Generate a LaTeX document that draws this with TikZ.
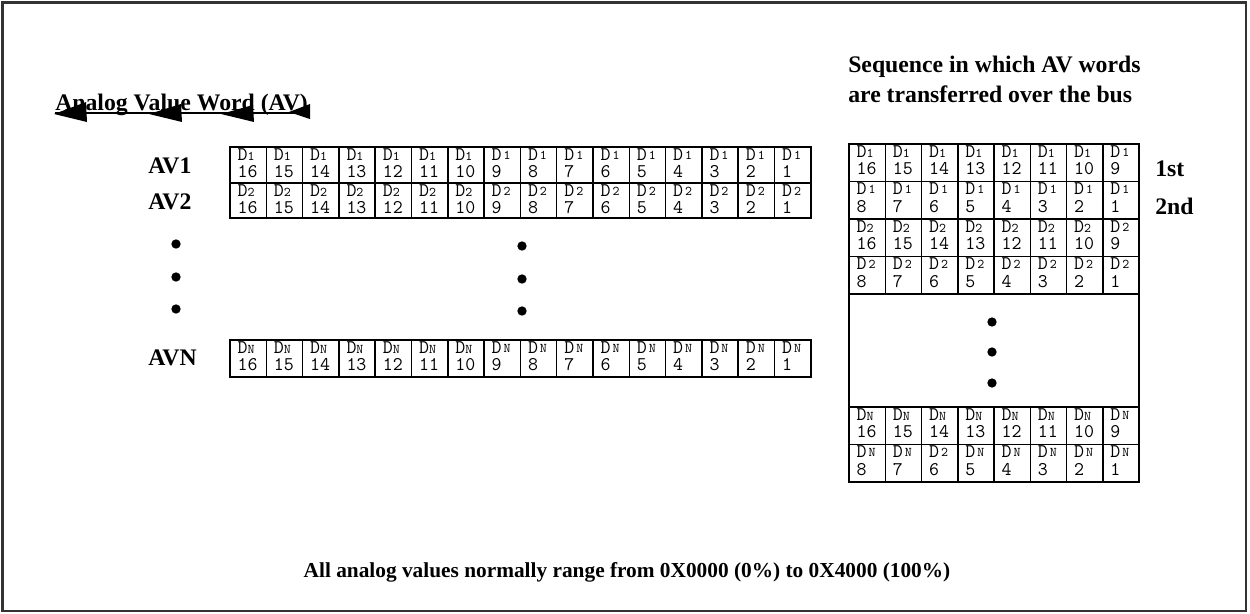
\documentclass[tikz,border=0pt]{standalone}
\usepackage{fontspec}
\setmainfont{Liberation Serif}
\newcommand\cellfont{\ttfamily\fontsize{14.5}{16}\selectfont}
\newcommand\idxfont{\ttfamily\fontsize{10}{12}\selectfont}
\newcommand\headfont{\fontsize{17.8}{22.5}\selectfont\bfseries}
\newcommand\notefont{\fontsize{16}{19}\selectfont\bfseries}

% one bit cell: #1 name, #2 x, #3 top y, #4 height, #5 word index, #6 bit number
\newcommand\bitcell[6]{%
  \node[cellbox, minimum height=#4*0.75pt, anchor=north west] (#1) at (#2,#3) {};
  \node[bittext] (#1-d) at ([xshift=5.5pt,yshift=-9.9pt]#1.north west)
    {D\ifnum#6>9\relax{\idxfont#5}\else\hspace{1.5pt}\raisebox{0.8pt}{\idxfont#5}\fi};
  \node[bittext] (#1-n) at ([xshift=5.5pt,yshift=-23pt]#1.north west) {#6};
}

\begin{document}
\begin{tikzpicture}[x=0.75pt, y=-0.75pt,
  cellbox/.style={draw, line width=1.1pt, inner sep=0pt, outer sep=0pt, minimum width=27.2pt},
  bittext/.style={anchor=base west, inner sep=0pt, font=\cellfont},
  label/.style={anchor=west, inner sep=0pt, font=\headfont},
  dot/.style={fill=black}]
\useasboundingbox (0,0) rectangle (1250,614);
\draw[line width=1.6pt, draw=black!80] (2.5,2.5) rectangle (1246,611);

% heading with underline and arrowheads
\node[anchor=base west, inner sep=0pt, font=\headfont] (head) at (55,110) {Analog Value Word (AV)};
\coordinate (ul-a) at (55,113);
\coordinate (ul-b) at (310,113);
\draw[line width=1pt] (ul-a) -- (ul-b);
\fill (54,114) -- (86,102) -- (87,122) -- cycle;
\fill (149,114) -- (181,104) -- (182,122) -- cycle;
\fill (221,114) -- (253,105) -- (254,122) -- cycle;
\fill (289,112) -- (310,104) -- (310,119) -- cycle;

% analog value words
\node[label] (av1) at (148,166) {AV1};
\node[label] (av2) at (148,202) {AV2};
\node[label] (avn) at (148,358) {AVN};
\foreach \i in {1,...,16}{
  \pgfmathtruncatemacro\num{17-\i}
  \pgfmathsetmacro\xx{230+(\i-1)*36.3}
  \bitcell{a1-\i}{\xx}{147}{36}{1}{\num}
  \bitcell{a2-\i}{\xx}{183}{35}{2}{\num}
  \bitcell{an-\i}{\xx}{340}{37}{N}{\num}
}
\foreach \yy in {244,277,309}{
  \fill[dot] (176,\yy) circle (3.5pt);
  \fill[dot] (522,\yy+2) circle (3.5pt);
}

% transfer sequence
\node[anchor=north west, inner sep=0pt, align=left, font=\headfont] (seq) at (848,56)
  {Sequence in which AV words\\are transferred over the bus};
\node[label] (first) at (1155,169) {1st};
\node[label] (second) at (1155,206) {2nd};
\foreach \r/\top/\idx/\base in {1/144/1/16, 2/181.5/1/8, 3/219/2/16, 4/256.5/2/8, 5/407/N/16, 6/444.5/N/8}{
  \foreach \i in {1,...,8}{
    \pgfmathtruncatemacro\num{\base+1-\i}
    \pgfmathsetmacro\xx{849+(\i-1)*36.25}
    \def\ix{\idx}
    \ifnum\r=6 \ifnum\i=3 \def\ix{2}\fi\fi
    \bitcell{s\r-\i}{\xx}{\top}{37.5}{\ix}{\num}
  }
}
\node[cellbox, minimum width=217.5pt, minimum height=84.4pt, anchor=north west] (gap) at (849,294) {};
\foreach \yy in {322,352,383}{
  \fill[dot] (992,\yy) circle (3.5pt);
}

\node[inner sep=0pt, font=\notefont] (note) at (627,572)
  {All analog values normally range from 0X0000 (0\%) to 0X4000 (100\%)};
\end{tikzpicture}
\end{document}
